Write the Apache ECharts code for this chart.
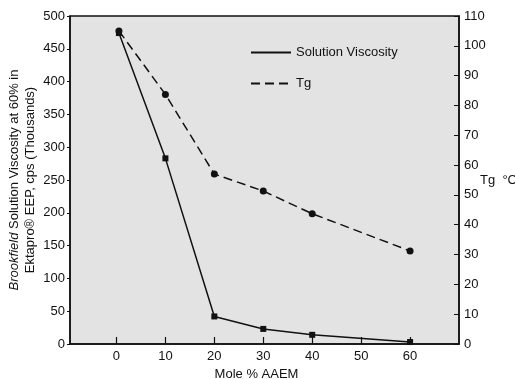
<!DOCTYPE html>
<html>
<head>
<meta charset="utf-8">
<script src="https://cdn.jsdelivr.net/npm/echarts@6/dist/echarts.min.js"></script>
<style>
  html, body { margin: 0; padding: 0; background: #fff; }
  #chart { width: 515px; height: 379px; }
</style>
</head>
<body>
<div id="chart"></div>
<script>
// mole % AAEM
const moleAAEM = [0.5, 10, 20, 30, 40, 60];
// Brookfield viscosity (thousands cps)
const viscosity = [474, 283, 42, 23, 14, 3];
// Tg in °C
const tg = [105, 83.7, 57, 51.3, 43.7, 31.2];
// x tick labels
const xTicks = [0, 10, 20, 30, 40, 50, 60];

const font = 'Liberation Sans, Arial, sans-serif';
const ink = '#111';

const chart = echarts.init(document.getElementById('chart'));
chart.setOption({
  animation: false,
  textStyle: { fontFamily: font, color: ink },
  grid: {
    left: 70, right: 56, top: 16, bottom: 35,
    outerBoundsMode: 'none',
    containLabel: false,
    show: true,
    backgroundColor: '#e3e3e3',
    borderColor: ink,
    borderWidth: 1.5
  },
  legend: {
    orient: 'vertical',
    left: 245, top: 41,
    itemWidth: 40, itemHeight: 14, itemGap: 18,
    itemStyle: { opacity: 0 },
    textStyle: { fontSize: 13, color: ink, fontFamily: font },
    data: ['Solution Viscosity', 'Tg']
  },
  xAxis: {
    type: 'value',
    min: -9.5, max: 70,
    name: 'Mole % AAEM',
    nameLocation: 'middle',
    nameGap: 24,
    nameMoveOverlap: false,
    nameTextStyle: { fontSize: 13, color: ink, padding: [0, 16, 0, 0] },
    axisLine: { onZero: false, lineStyle: { color: ink, width: 1.5 } },
    axisTick: { inside: true, length: 7, lineStyle: { color: ink, width: 1.2 }, customValues: xTicks },
    axisLabel: { fontSize: 13, color: ink, margin: 6, customValues: xTicks },
    splitLine: { show: false }
  },
  yAxis: [
    {
      type: 'value',
      min: 0, max: 500, interval: 50,
      name: '{i|Brookfield} Solution Viscosity at 60% in\nEktapro® EEP, cps (Thousands)',
      nameLocation: 'middle',
      nameRotate: 90,
      nameGap: 32,
      nameMoveOverlap: false,
      nameTextStyle: {
        fontSize: 13, color: ink, lineHeight: 16,
        rich: { i: { fontStyle: 'italic', fontSize: 13, color: ink, fontFamily: font } }
      },
      axisLine: { show: true, onZero: false, lineStyle: { color: ink, width: 1.5 } },
      axisTick: { show: true, length: 3, lineStyle: { color: ink } },
      axisLabel: { fontSize: 13, color: ink, margin: 5 },
      splitLine: { show: false }
    },
    {
      type: 'value',
      min: 0, max: 110, interval: 10,
      position: 'right',
      name: 'Tg  °C',
      nameLocation: 'middle',
      nameRotate: 0,
      nameGap: 21,
      nameMoveOverlap: false,
      nameTextStyle: { fontSize: 13, color: ink, align: 'left', padding: [10, 0, 0, 0] },
      axisLine: { show: true, onZero: false, lineStyle: { color: ink, width: 1.5 } },
      axisTick: { show: true, inside: true, length: 5, lineStyle: { color: ink } },
      axisLabel: { fontSize: 13, color: ink, margin: 5 },
      splitLine: { show: false }
    }
  ],
  series: [
    {
      name: 'Solution Viscosity',
      type: 'line',
      yAxisIndex: 0,
      data: moleAAEM.map((x, i) => [x, viscosity[i]]),
      symbol: 'rect',
      symbolSize: 6,
      lineStyle: { color: ink, width: 1.5 },
      itemStyle: { color: ink }
    },
    {
      name: 'Tg',
      type: 'line',
      yAxisIndex: 1,
      data: moleAAEM.map((x, i) => [x, tg[i]]),
      symbol: 'circle',
      symbolSize: 7,
      lineStyle: { color: ink, width: 1.5, type: [9, 5] },
      itemStyle: { color: ink }
    }
  ]
});
</script>
</body>
</html>
